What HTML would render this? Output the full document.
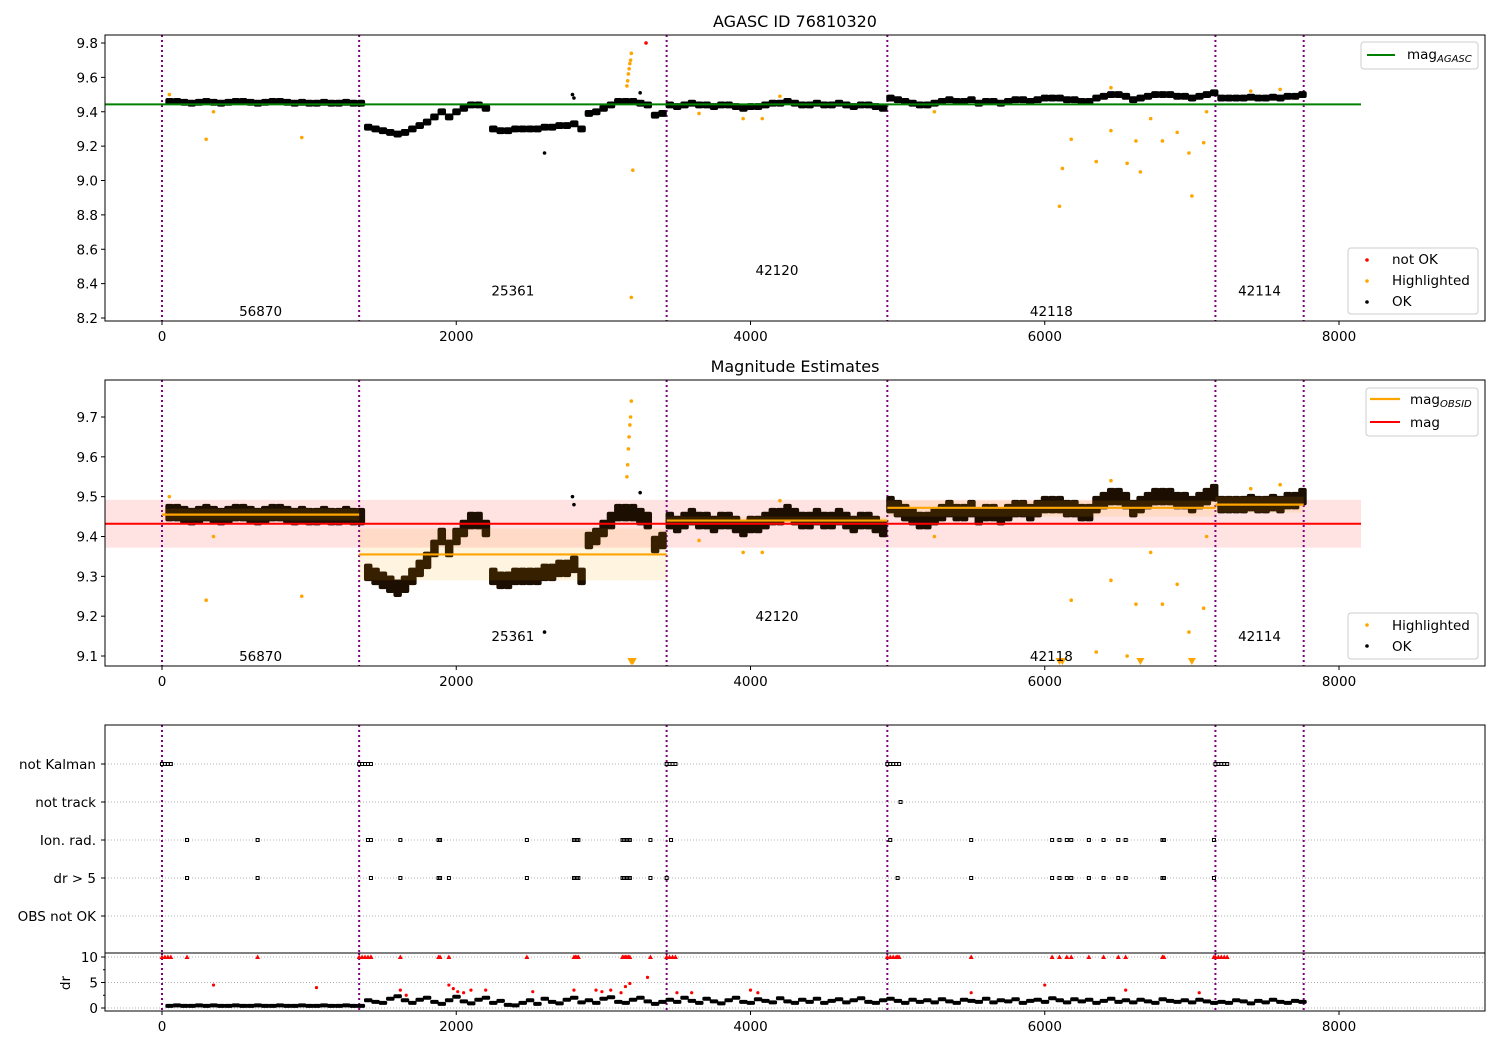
<!DOCTYPE html>
<html><head><meta charset="utf-8"><style>
body{margin:0;background:#fff}
svg{display:block;font-family:"DejaVu Sans","Liberation Sans",sans-serif}
</style></head><body>
<svg id="c" width="1500" height="1050" xmlns="http://www.w3.org/2000/svg"></svg>
<script>
// ---- data ----
const obsBounds = [0, 1340, 3430, 4930, 7160, 7760];
const obsIds = ["56870", "25361", "42120", "42118", "42114"];
const obsLabelMag1 = [8.24, 8.36, 8.48, 8.24, 8.36];
const obsLabelMag2 = [9.1, 9.15, 9.2, 9.1, 9.15];
const segStart = [50, 1400, 3450, 4950, 7200];
const magSeg1 = [9.46,9.46,9.455,9.45,9.455,9.46,9.455,9.45,9.455,9.46,9.46,9.455,9.45,9.455,9.46,9.46,9.455,9.45,9.455,9.45,9.45,9.455,9.45,9.45,9.455,9.45,9.45];
const magSeg2 = [9.31,9.30,9.29,9.28,9.27,9.28,9.30,9.32,9.34,9.37,9.40,9.37,9.40,9.42,9.44,9.44,9.42,9.30,9.29,9.29,9.30,9.30,9.30,9.30,9.31,9.31,9.32,9.32,9.33,9.30,9.39,9.40,9.42,9.44,9.46,9.46,9.46,9.45,9.44,9.38,9.39];
const magSeg3 = [9.44,9.43,9.44,9.45,9.44,9.44,9.43,9.44,9.44,9.43,9.42,9.43,9.43,9.44,9.45,9.45,9.46,9.45,9.44,9.44,9.45,9.44,9.44,9.45,9.44,9.43,9.44,9.44,9.43,9.42];
const magSeg4 = [9.48,9.47,9.46,9.45,9.44,9.44,9.45,9.46,9.47,9.46,9.46,9.47,9.45,9.46,9.46,9.45,9.46,9.47,9.47,9.46,9.47,9.48,9.48,9.48,9.47,9.47,9.46,9.46,9.48,9.49,9.50,9.50,9.49,9.47,9.48,9.49,9.50,9.50,9.50,9.49,9.49,9.48,9.49,9.50,9.51];
const magSeg5 = [9.48,9.48,9.48,9.48,9.485,9.48,9.48,9.485,9.48,9.49,9.49,9.50];
const magSegs = [magSeg1, magSeg2, magSeg3, magSeg4, magSeg5];
const drSeg1 = [0.4,0.5,0.4,0.4,0.5,0.4,0.5,0.4,0.4,0.5,0.4,0.4,0.5,0.4,0.4,0.5,0.4,0.4,0.5,0.4,0.4,0.5,0.4,0.4,0.5,0.4,0.4];
const drSeg2 = [1.5,1.2,1.0,1.8,2.3,1.5,1.0,1.6,2.0,1.2,0.8,1.5,2.2,1.3,0.9,1.6,2.0,1.0,1.4,0.6,0.5,1.0,1.5,0.8,1.8,1.2,0.9,1.6,2.0,1.1,1.5,1.0,1.8,2.1,1.2,1.0,1.6,2.0,1.3,0.8,1.2];
const drSeg3 = [1.6,1.2,2.0,1.4,1.0,1.8,1.3,0.9,1.5,2.0,1.2,1.0,1.7,1.4,1.1,1.9,1.3,1.0,1.6,1.2,1.8,1.0,1.4,1.7,1.1,1.5,1.9,1.2,1.0,1.5];
const drSeg4 = [1.8,1.4,1.0,1.6,1.2,1.5,1.1,1.7,1.3,1.0,1.6,1.4,1.2,1.8,1.1,1.5,1.3,1.7,1.0,1.4,1.6,1.2,1.9,1.5,1.1,1.7,1.3,1.6,1.0,1.4,1.8,1.2,1.5,1.1,1.6,1.3,1.0,1.7,1.4,1.2,1.5,1.1,1.6,1.3,1.0];
const drSeg5 = [1.2,1.0,1.5,1.3,0.9,1.4,1.1,1.6,1.2,1.0,1.4,1.2];
const drSegs = [drSeg1, drSeg2, drSeg3, drSeg4, drSeg5];
const hlT = [50,300,350,950,3160,3165,3170,3175,3180,3185,3190,3200,3190,3650,3950,4080,4200,5250,6100,6120,6180,6350,6450,6560,6620,6650,6720,6800,6900,6980,7000,7080,7100,6450,7400,7600];
const hlM = [9.50,9.24,9.40,9.25,9.55,9.58,9.62,9.65,9.68,9.70,9.74,9.06,8.32,9.39,9.36,9.36,9.49,9.40,8.85,9.07,9.24,9.11,9.29,9.10,9.23,9.05,9.36,9.23,9.28,9.16,8.91,9.22,9.40,9.54,9.52,9.53];
const notOkT = [3290];
const notOkM = [9.80];
const outT = [2600, 2790, 2800, 3250];
const outM = [9.16, 9.50, 9.48, 9.51];
const agascMag = 9.443;
const magMean = 9.432, magLo = 9.372, magHi = 9.492;
const obsMag = [9.455, 9.355, 9.44, 9.472, 9.48];
const obsLo = [9.44, 9.29, 9.43, 9.45, 9.46];
const obsHi = [9.47, 9.42, 9.45, 9.49, 9.50];
const flagNames = ["not Kalman", "not track", "Ion. rad.", "dr > 5", "OBS not OK"];
const flagKalman = [0,20,40,60,1340,1360,1380,1400,1420,3430,3450,3470,3490,4930,4950,4970,4990,5010,7160,7180,7200,7220,7240];
const flagTrack = [5020];
const flagIon = [170,650,1400,1420,1620,1880,1890,2480,2800,2810,2820,2830,3130,3140,3150,3160,3170,3180,3320,3460,4950,5500,6050,6100,6150,6180,6300,6400,6500,6550,6800,6810,7150];
const flagDr = [170,650,1420,1620,1880,1890,1950,2480,2800,2810,2820,2830,3130,3140,3150,3160,3170,3180,3320,3430,5000,5500,6050,6100,6150,6180,6300,6400,6500,6550,6800,6810,7150];
const drRedT = [350,1050,1620,1660,1950,1980,2010,2050,2100,2200,2520,2800,2950,2990,3050,3120,3150,3180,3300,3500,3600,4000,4050,5500,6000,6550,7050];
const drRedV = [4.5,4,3.5,2.5,4.5,3.8,3.2,3.0,3.5,3.5,3.2,3.5,3.5,3.2,3.5,3.0,4.2,4.8,6,3,3,3.5,3,3,4.5,3.5,3];
const xTicks = [0, 2000, 4000, 6000, 8000];
const y1Ticks = [8.2,8.4,8.6,8.8,9.0,9.2,9.4,9.6,9.8];
const y2Ticks = [9.1,9.2,9.3,9.4,9.5,9.6,9.7];
const drTicks = [0,5,10];

// ---- scales ----
const X = t => 162 + t * 0.147125;
const Y1 = m => 43 + (9.8 - m) * 171.875;
const Y2 = m => 417 + (9.7 - m) * 398.33;
const FY = i => 764 + i * 38;
const DY = d => 1008 - d * 5.1;
const P1 = {top:35,bot:321}, P2 = {top:380,bot:666}, P3 = {top:725,bot:953}, P4 = {top:953,bot:1011};
const L = 105, R = 1485;
const FS = 13.5;

const svg = document.getElementById('c');
const NS = 'http://www.w3.org/2000/svg';
function el(tag, attrs, parent, text) {
  const e = document.createElementNS(NS, tag);
  for (const k in attrs) e.setAttribute(k, attrs[k]);
  if (text !== undefined) e.textContent = text;
  (parent || svg).appendChild(e);
  return e;
}
function clip(id, p) {
  const cp = el('clipPath', {id: id});
  el('rect', {x: L, y: p.top, width: R - L, height: p.bot - p.top}, cp);
}
clip('c1', P1); clip('c2', P2); clip('c3', P3); clip('c4', P4);

function xAxis(p, grp) {
  xTicks.forEach(t => {
    const tk = el('line', {x1: X(t), x2: X(t), y1: p.bot, y2: p.bot + 4, stroke: '#000'}, grp);
    
    
    const lb = el('text', {x: X(t), y: p.bot + 20, 'font-size': FS, 'text-anchor': 'middle'}, grp, String(t));
    
    
  });
}
function yAxis(ticks, Y, grp, fmt) {
  ticks.forEach(v => {
    const y = Y(v);
    const tk = el('line', {x1: L - 4, x2: L, y1: y, y2: y, stroke: '#000'}, grp);
    
    
    const lb = el('text', {x: L - 7, y: y + 5, 'font-size': FS, 'text-anchor': 'end'}, grp, fmt(v));
    
    
  });
}
function vlines(p, grp) {
  obsBounds.forEach(t => {
    const v = el('line', {x1: X(t), x2: X(t), y1: p.top, y2: p.bot, stroke: '#800080', 'stroke-width': 2, 'stroke-dasharray': '2,3'}, grp);
    
    
  });
}
function magBand(Y, grp, fill, hw) {
  magSegs.forEach((seg, s) => {
    seg.forEach((m, i) => {
      const t = segStart[s] + i * 50;
      const r = el('rect', {x: X(t) - 4, y: Y(m + hw), width: 8.5, height: Y(m - hw) - Y(m + hw), fill: fill, rx: 2}, grp);
      
      
    });
  });
}
function dots(T, V, Y, grp, fill, r, name) {
  T.forEach((t, i) => {
    const c = el('circle', {cx: X(t), cy: Y(V[i]), r: r, fill: fill}, grp);
    
    
  });
}
function frame(p, name) {
  const f = el('rect', {x: L, y: p.top, width: R - L, height: p.bot - p.top, fill: 'none', stroke: '#000', 'stroke-width': 1});
  
  
}
function legendBox(x, y, w, h, name) {
  const b = el('rect', {x: x, y: y, width: w, height: h, rx: 3, fill: '#fff', 'fill-opacity': 0.8, stroke: '#ccc'});
  
  
}
function legText(x, y, txt, sub, name) {
  const t = el('text', {x: x, y: y, 'font-size': FS}, svg, txt);
  if (sub) el('tspan', {'font-size': 10, 'font-style': 'italic', dy: 3}, t, sub);
  
  
}

// ---- panel 1 ----
const g1 = el('g', {'clip-path': 'url(#c1)'});


vlines(P1, g1);
magBand(Y1, g1, '#000', 0.02);
dots(outT, outM, Y1, g1, '#000', 1.8, 'ok-outlier');
dots(hlT, hlM, Y1, g1, 'orange', 1.8, 'highlighted-point');
dots(notOkT, notOkM, Y1, g1, 'red', 1.8, 'not-ok-point');
const ag = el('line', {x1: L, x2: 1361, y1: Y1(agascMag), y2: Y1(agascMag), stroke: 'green', 'stroke-width': 2}, g1);
 
obsIds.forEach((id, i) => {
  const t = el('text', {x: X((obsBounds[i] + obsBounds[i+1]) / 2), y: Y1(obsLabelMag1[i]) + 5, 'font-size': FS, 'text-anchor': 'middle'}, g1, id);
   
});
frame(P1, 'agasc-axes-frame');
xAxis(P1, svg); yAxis(y1Ticks, Y1, svg, v => v.toFixed(1));
const t1 = el('text', {x: 795, y: 27, 'font-size': 16, 'text-anchor': 'middle'}, svg, 'AGASC ID 76810320');
 
legendBox(1361, 42, 117, 27, 'agasc-legend-top');
el('line', {x1: 1367, x2: 1395, y1: 55, y2: 55, stroke: 'green', 'stroke-width': 2});
legText(1407, 59, 'mag', 'AGASC', 'legend-mag-agasc');
legendBox(1348, 248, 130, 66, 'agasc-legend-bottom');
el('circle', {cx: 1367, cy: 260, r: 1.8, fill: 'red'});
legText(1392, 264, 'not OK', '', 'legend-not-ok');
el('circle', {cx: 1367, cy: 281, r: 1.8, fill: 'orange'});
legText(1392, 285, 'Highlighted', '', 'legend-highlighted');
el('circle', {cx: 1367, cy: 302, r: 1.8, fill: '#000'});
legText(1392, 306, 'OK', '', 'legend-ok');

// ---- panel 2 ----
const g2 = el('g', {'clip-path': 'url(#c2)'});


const pb = el('rect', {x: L, y: Y2(magHi), width: 1361 - L, height: Y2(magLo) - Y2(magHi), fill: 'red', 'fill-opacity': 0.11}, g2);
 
vlines(P2, g2);
magBand(Y2, g2, '#1c0e00', 0.022);
obsMag.forEach((m, i) => {
  const b = el('rect', {x: X(obsBounds[i]), y: Y2(obsHi[i]), width: X(obsBounds[i+1]) - X(obsBounds[i]), height: Y2(obsLo[i]) - Y2(obsHi[i]), fill: 'orange', 'fill-opacity': 0.12}, g2);
   
  const l = el('line', {x1: X(obsBounds[i]), x2: X(obsBounds[i+1]), y1: Y2(m), y2: Y2(m), stroke: 'orange', 'stroke-width': 2.2}, g2);
   
});
dots(outT, outM, Y2, g2, '#000', 1.8, 'ok-outlier');
dots(hlT, hlM, Y2, g2, 'orange', 1.8, 'highlighted-point');
hlT.forEach((t, i) => {
  if (hlM[i] < 9.075) {
    const tr = el('path', {d: `M${X(t)-4},${P2.bot-8}L${X(t)+4},${P2.bot-8}L${X(t)},${P2.bot-1}Z`, fill: 'orange'}, g2);
     
  }
});
const ml = el('line', {x1: L, x2: 1361, y1: Y2(magMean), y2: Y2(magMean), stroke: 'red', 'stroke-width': 2}, g2);
 
obsIds.forEach((id, i) => {
  const t = el('text', {x: X((obsBounds[i] + obsBounds[i+1]) / 2), y: Y2(obsLabelMag2[i]) + 5, 'font-size': FS, 'text-anchor': 'middle'}, g2, id);
   
});
frame(P2, 'estimates-axes-frame');
xAxis(P2, svg); yAxis(y2Ticks, Y2, svg, v => v.toFixed(1));
const t2 = el('text', {x: 795, y: 372, 'font-size': 16, 'text-anchor': 'middle'}, svg, 'Magnitude Estimates');
 
legendBox(1366, 388, 112, 48, 'estimates-legend-top');
el('line', {x1: 1370, x2: 1400, y1: 399, y2: 399, stroke: 'orange', 'stroke-width': 2.2});
legText(1410, 404, 'mag', 'OBSID', 'legend-mag-obsid');
el('line', {x1: 1370, x2: 1400, y1: 422, y2: 422, stroke: 'red', 'stroke-width': 2});
legText(1410, 427, 'mag', '', 'legend-mag');
legendBox(1348, 613, 130, 46, 'estimates-legend-bottom');
el('circle', {cx: 1367, cy: 625, r: 1.8, fill: 'orange'});
legText(1392, 630, 'Highlighted', '', 'legend-highlighted');
el('circle', {cx: 1367, cy: 646, r: 1.8, fill: '#000'});
legText(1392, 651, 'OK', '', 'legend-ok');

// ---- panel 3: flags ----
const g3 = el('g', {'clip-path': 'url(#c3)'});


flagNames.forEach((n, i) => {
  const gl = el('line', {x1: L, x2: R, y1: FY(i), y2: FY(i), stroke: '#b0b0b0', 'stroke-dasharray': '1,2'}, g3);
   
  const lb = el('text', {x: 96, y: FY(i) + 5, 'font-size': FS, 'text-anchor': 'end'}, svg, n);
   
  el('line', {x1: L - 4, x2: L, y1: FY(i), y2: FY(i), stroke: '#000'});
});
vlines(P3, g3);
[flagKalman, flagTrack, flagIon, flagDr].forEach((arr, r) => {
  arr.forEach(t => {
    const m = el('rect', {x: X(t) - 1.5, y: FY(r) - 1.5, width: 3, height: 3, fill: 'none', stroke: '#000', 'stroke-width': 1}, g3);
     
  });
});
frame(P3, 'flags-axes-frame');

// ---- panel 4: dr ----
const g4 = el('g', {'clip-path': 'url(#c4)'});


drTicks.forEach(v => {
  el('line', {x1: L, x2: R, y1: DY(v), y2: DY(v), stroke: '#b0b0b0', 'stroke-dasharray': '1,2'}, g4);
});
vlines(P4, g4);
drSegs.forEach((seg, s) => {
  seg.forEach((d, i) => {
    const t = segStart[s] + i * 50;
    const r = el('rect', {x: X(t) - 4, y: DY(d + 0.4), width: 8.5, height: 4, fill: '#000', rx: 1.5}, g4);
     
  });
});
dots(drRedT, drRedV, DY, g4, 'red', 1.6, 'dr-red-point');
flagDr.concat(flagKalman).forEach(t => {
  const m = el('path', {d: `M${X(t)-2.5},${DY(10)+2}L${X(t)+2.5},${DY(10)+2}L${X(t)},${DY(10)-2.5}Z`, fill: 'red'}, g4);
   
});
frame(P4, 'dr-axes-frame');
xAxis(P4, svg);
yAxis(drTicks, DY, svg, v => String(v));
[2.5, 7.5].forEach(v => el('line', {x1: L - 2, x2: L, y1: DY(v), y2: DY(v), stroke: '#000'}));
const dl = el('text', {x: 0, y: 0, 'font-size': FS, 'text-anchor': 'middle', transform: 'translate(70,983) rotate(-90)'}, svg, 'dr');
 
</script>
</body></html>
